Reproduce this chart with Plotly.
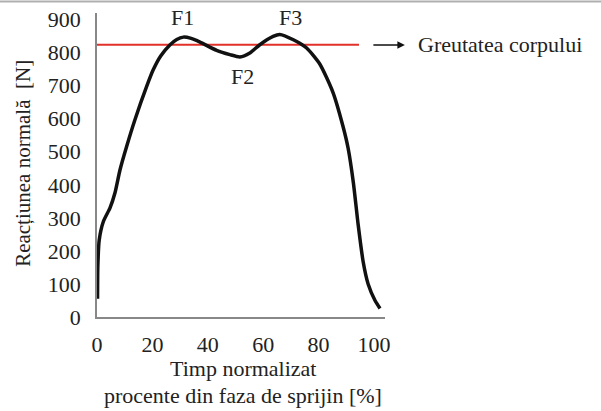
import plotly.graph_objects as go

# Data
time_pct = [0.2, 0.3, 0.8, 2.3, 4.7, 6.5, 8.3, 10.7, 13.7, 17.9, 20.3, 23.0, 26.4, 28.8,
            31.2, 34.0, 37.2, 43.2, 48.0, 51.6, 55.2, 58.8, 63.6, 66.0, 70.9, 75.7,
            80.5, 85.2, 88.8, 90.7, 92.6, 94.3, 96.1, 97.9, 100.4, 102.2]
force_n = [55, 152, 233, 289, 330, 376, 445, 516, 597, 697, 748, 790, 824, 840,
           847, 843, 832, 807, 794, 787, 799, 824, 849, 855, 839, 814,
           765, 680, 578, 510, 405, 280, 168, 100, 50, 26]

body_weight = 824
weight_x = [0, 94.6]

peak_labels = ["F1", "F2", "F3"]
peak_x = [30.7, 52.7, 69.7]
peak_y = [906, 727, 906]

x_ticks = [0, 20, 40, 60, 80, 100]
y_ticks = [0, 100, 200, 300, 400, 500, 600, 700, 800, 900]

FONT = '"Liberation Serif", "Times New Roman", serif'
FS = 22
TXT = "#222"

fig = go.Figure()
fig.add_trace(go.Scatter(x=weight_x, y=[body_weight] * len(weight_x), mode="lines",
                         line=dict(color="#e2302a", width=2), hoverinfo="skip",
                         showlegend=False))
fig.add_trace(go.Scatter(x=time_pct, y=force_n, mode="lines",
                         line=dict(color="#111111", width=3.5, shape="spline", smoothing=0.6),
                         showlegend=False))

for lab, px, py in zip(peak_labels, peak_x, peak_y):
    fig.add_annotation(x=px, y=py, text=lab, showarrow=False, xref="x", yref="y",
                       xanchor="center", yanchor="middle",
                       font=dict(family=FONT, size=FS, color=TXT))

# Arrow + label for body weight
fig.add_annotation(x=1.069, y=0.895, ax=-33, ay=0, xref="paper", yref="paper",
                   axref="pixel", ayref="pixel", showarrow=True, arrowhead=2, arrowsize=1,
                   arrowwidth=1.5, arrowcolor="#111", text="")
fig.add_annotation(x=1.108, y=0.895, xref="paper", yref="paper", text="Greutatea corpului",
                   showarrow=False, xanchor="left", yanchor="middle",
                   font=dict(family=FONT, size=FS, color=TXT))

# Axis titles
fig.add_annotation(x=-0.257, y=0.507, xref="paper", yref="paper", text="Reacțiunea normală  [N]",
                   textangle=-90, showarrow=False, xanchor="center", yanchor="middle",
                   font=dict(family=FONT, size=21, color=TXT))
fig.add_annotation(x=0.507, y=-0.168, xref="paper", yref="paper", text="Timp normalizat",
                   showarrow=False, xanchor="center", yanchor="middle",
                   font=dict(family=FONT, size=FS, color=TXT))
fig.add_annotation(x=0.507, y=-0.257, xref="paper", yref="paper",
                   text="procente din faza de sprijin [%]",
                   showarrow=False, xanchor="center", yanchor="middle",
                   font=dict(family=FONT, size=FS, color=TXT))

# Top gray border line
fig.add_shape(type="line", xref="paper", yref="paper", x0=-0.4, x1=1.8,
              y0=1.0378, y1=1.0378, line=dict(color="#b0b0b0", width=2))

fig.update_layout(
    width=601, height=411,
    margin=dict(l=97, r=216, t=13, b=94),
    paper_bgcolor="white", plot_bgcolor="white",
    font=dict(family=FONT, size=FS, color=TXT),
    xaxis=dict(range=[0, 104], tickvals=x_ticks, showgrid=False, zeroline=False,
               showline=True, linecolor="#888", linewidth=1.5, ticks="",
               automargin=False, ticklabelstandoff=7,
               tickfont=dict(family=FONT, size=FS, color=TXT)),
    yaxis=dict(range=[0, 920], tickvals=y_ticks, showgrid=False, zeroline=False,
               showline=True, linecolor="#888", linewidth=1.5, ticks="",
               automargin=False, ticklabelstandoff=10,
               tickfont=dict(family=FONT, size=FS, color=TXT)),
)

fig.write_html("out.html", config={"displayModeBar": False},
               post_script="document.body.style.margin='0';")
